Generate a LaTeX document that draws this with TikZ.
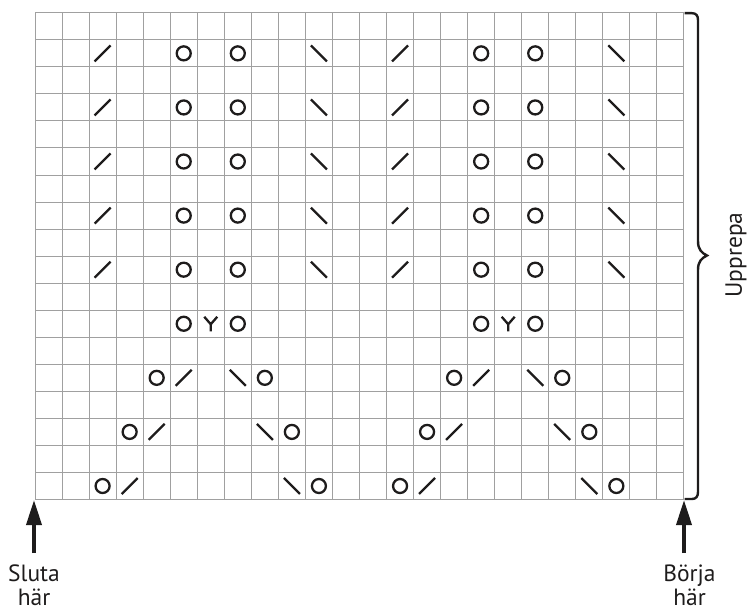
\documentclass[tikz,border=0pt]{standalone}
\usepackage{fontspec}
\setmainfont{PT Sans}
\usetikzlibrary{arrows.meta}
\definecolor{gridgray}{RGB}{160,160,160}
\definecolor{ink}{RGB}{30,28,28}
\begin{document}
\begin{tikzpicture}[x=1pt,y=-1pt,
  gridline/.style={draw=gridgray,line width=1pt},
  sym/.style={draw=ink,line width=2.3pt},
  lbl/.style={text=ink,font=\fontsize{23.5}{26}\selectfont,inner sep=0pt},
  startarrow/.style={draw=ink,line width=3.6pt,-{Triangle[length=25pt,width=15pt]}},
  bracestyle/.style={draw=ink,line width=2.4pt},
  yo/.pic={\draw[sym] (0,0) circle[radius=7];},
  ktog/.pic={\draw[sym] (-8,8) -- (8,-8);},
  sskd/.pic={\draw[sym] (-8,-8) -- (8,8);},
  cdd/.pic={\draw[sym,line join=round] (-6.5,-7) -- (0,0.5) -- (6.5,-7) (0,0.5) -- (0,7.5);}
]
\useasboundingbox (0,0) rectangle (748,610);
% grid 24 x 18
\foreach \i in {0,...,24}
  \draw[gridline] ({35+\i*27.04},12.8) -- ({35+\i*27.04},{12.8+18*27.04});
\foreach \j in {0,...,18}
  \draw[gridline] (35,{12.8+\j*27.04}) -- ({35+24*27.04},{12.8+\j*27.04});
% symbols
\foreach \o in {0,11}{
  \foreach \r in {9,11,13,15,17}{
    \pic at ({35+(\o+3-0.5)*27.04},{12.8+(18.5-\r)*27.04}) {ktog};
    \pic at ({35+(\o+6-0.5)*27.04},{12.8+(18.5-\r)*27.04}) {yo};
    \pic at ({35+(\o+8-0.5)*27.04},{12.8+(18.5-\r)*27.04}) {yo};
    \pic at ({35+(\o+11-0.5)*27.04},{12.8+(18.5-\r)*27.04}) {sskd};
  }
  \foreach \c/\r in {6/7,8/7,5/5,9/5,4/3,10/3,3/1,11/1}
    \pic at ({35+(\o+\c-0.5)*27.04},{12.8+(18.5-\r)*27.04}) {yo};
  \foreach \c/\r in {6/5,5/3,4/1}
    \pic at ({35+(\o+\c-0.5)*27.04},{12.8+(18.5-\r)*27.04}) {ktog};
  \foreach \c/\r in {8/5,9/3,10/1}
    \pic at ({35+(\o+\c-0.5)*27.04},{12.8+(18.5-\r)*27.04}) {sskd};
  \pic at ({35+(\o+7-0.5)*27.04},{12.8+(18.5-7)*27.04}) {cdd};
}
% brace
\draw[bracestyle] (684.5,13.2) -- (692,13.2) .. controls (696,13.2) and (698,15.5) .. (698,20)
  -- (698,241) .. controls (698,250) and (702,253) .. (707,255.5)
  .. controls (702,258) and (698,261) .. (698,270)
  -- (698,492) .. controls (698,496.5) and (696,499) .. (692,499) -- (684.5,499);
\node[lbl,rotate=90] (upprepa) at (736,255) {Upprepa};
% start/end markers
\coordinate (leftcorner) at (34,500);
\coordinate (rightcorner) at (684,500);
\coordinate (lefttail) at (34,553);
\coordinate (righttail) at (684,553);
\draw[startarrow] (lefttail) -- (leftcorner);
\draw[startarrow] (righttail) -- (rightcorner);
\node[lbl,anchor=base] (sluta) at (34,581) {Sluta};
\node[lbl,anchor=base] (slutahar) at (34,605) {här};
\node[lbl,anchor=base] (borja) at (689.5,581) {Börja};
\node[lbl,anchor=base] (borjahar) at (689.5,605) {här};
\end{tikzpicture}
\end{document}
